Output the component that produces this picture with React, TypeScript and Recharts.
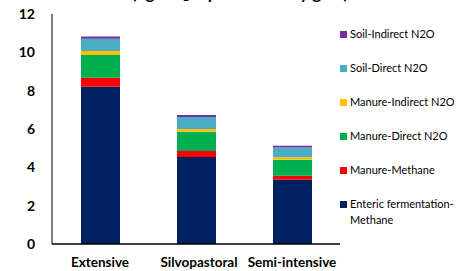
import React from 'react';
import { BarChart, Bar, XAxis, YAxis, Legend } from 'recharts';

const categories = ['Extensive', 'Silvopastoral', 'Semi-intensive'];
const entericMethane = [8.21, 4.54, 3.36];
const manureMethane = [0.47, 0.31, 0.2];
const manureDirectN2O = [1.18, 1.01, 0.84];
const manureIndirectN2O = [0.21, 0.14, 0.12];
const soilDirectN2O = [0.64, 0.62, 0.52];
const soilIndirectN2O = [0.11, 0.11, 0.09];
const yTicks = [0, 2, 4, 6, 8, 10, 12];
const titleText = '(kg CO\u2082 eq/animal daily gain)';

const seriesDefs = [
  { key: 'enteric', name: 'Enteric fermentation-Methane', values: entericMethane, color: '#002060' },
  { key: 'manureCH4', name: 'Manure-Methane', values: manureMethane, color: '#FF0000' },
  { key: 'manureDirect', name: 'Manure-Direct N2O', values: manureDirectN2O, color: '#00B050' },
  { key: 'manureIndirect', name: 'Manure-Indirect N2O', values: manureIndirectN2O, color: '#FFC000' },
  { key: 'soilDirect', name: 'Soil-Direct N2O', values: soilDirectN2O, color: '#4BACC6' },
  { key: 'soilIndirect', name: 'Soil-Indirect N2O', values: soilIndirectN2O, color: '#7030A0' },
];

const data = categories.map((c, i) => {
  const row: Record<string, string | number> = { category: c };
  seriesDefs.forEach((s) => {
    row[s.key] = s.values[i];
  });
  return row;
});

const FONT = 'Lato, "Open Sans", sans-serif';
const labelShift = [0, 3, 0];

const XTick = (props: any) => {
  const { x, y, payload, index } = props;
  return (
    <text
      x={x + (labelShift[index] || 0)}
      y={y}
      dy="0.71em"
      textAnchor="middle"
      fontFamily={FONT}
      fontWeight={700}
      fontSize={13.5}
      fill="#000"
    >
      {payload.value}
    </text>
  );
};

const LegendContent = () => {
  const items = [...seriesDefs].reverse();
  return (
    <div style={{ fontFamily: FONT, fontSize: 11, color: '#000' }}>
      {items.map((s) => {
        const parts = s.key === 'enteric' ? ['Enteric fermentation-', 'Methane'] : [s.name];
        return (
          <div key={s.key} style={{ display: 'flex', alignItems: 'flex-start', height: 34 }}>
            <div
              style={{
                width: 7,
                height: 7,
                background: s.color,
                marginTop: 4,
                marginRight: 3,
                flex: 'none',
              }}
            />
            <div style={{ lineHeight: '16px', marginTop: -1 }}>
              {parts.map((p, i) => (
                <div key={i}>{p}</div>
              ))}
            </div>
          </div>
        );
      })}
    </div>
  );
};

export default function App() {
  return (
    <div style={{ position: 'absolute', left: 0, top: -20 }}>
      <BarChart
        width={470}
        height={291}
        data={data}
        margin={{ top: 34, right: 130, bottom: 0, left: 0 }}
        barCategoryGap="30%"
      >
        <text
          x={240}
          y={19}
          textAnchor="middle"
          fontFamily={FONT}
          fontWeight={700}
          fontSize={17}
          fill="#000"
        >
          {titleText}
        </text>
        <XAxis
          dataKey="category"
          tickLine={false}
          axisLine={{ stroke: '#000', strokeWidth: 1.5 }}
          tick={<XTick />}
          tickMargin={7}
          interval={0}
          height={27}
        />
        <YAxis
          domain={[0, 12]}
          ticks={yTicks}
          width={52}
          tickLine={false}
          tickSize={0}
          tickMargin={17}
          axisLine={{ stroke: '#000', strokeWidth: 1 }}
          tick={{ fontFamily: FONT, fontWeight: 700, fontSize: 14, fill: '#000' }}
        />
        <Legend
          layout="vertical"
          align="center"
          verticalAlign="middle"
          content={<LegendContent />}
          wrapperStyle={{ left: 340, top: 47, width: 130 }}
        />
        {seriesDefs.map((s) => (
          <Bar
            key={s.key}
            dataKey={s.key}
            name={s.name}
            stackId="a"
            fill={s.color}
            barSize={39}
            isAnimationActive={false}
          />
        ))}
      </BarChart>
    </div>
  );
}
